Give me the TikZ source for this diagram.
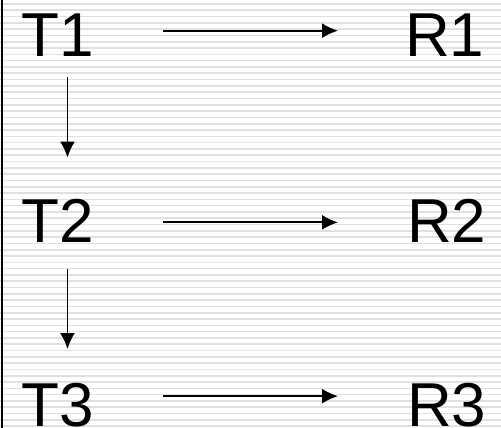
\documentclass[tikz,border=0pt]{standalone}
\usepackage{fontspec}
\setmainfont{Liberation Sans}
\usetikzlibrary{arrows.meta}
\tikzset{
 lbl/.style={inner sep=0pt,anchor=base west,font=\fontsize{62pt}{62pt}\selectfont},
 arr/.style={line width=1.8pt,-{Latex[length=16pt,width=15pt]}}
}
\begin{document}
\begin{tikzpicture}[x=1pt,y=-1pt]
\useasboundingbox(0,0)rectangle(501,428);
\fill[white](0,0)rectangle(501,428);
\foreach \i in {0,...,67}{\draw[line width=1.6pt,black!12](0,4+\i*6.3)--++(501,0);}
\draw[line width=2pt](2,0)--(2,428);
\node[lbl](T1)at(21.5,57){T1};
\node[lbl](T2)at(21.5,242){T2};
\node[lbl](T3)at(21.5,426.5){T3};
\node[lbl](R1)at(405,57){R1};
\node[lbl](R2)at(407,242){R2};
\node[lbl](R3)at(407,426.5){R3};
\draw[arr,shorten <=68.7pt,shorten >=67pt]([yshift=5pt]T1.east)--([yshift=5pt]R1.west);
\draw[arr,shorten <=68.7pt,shorten >=69pt]([yshift=-2pt]T2.east)--([yshift=-2pt]R2.west);
\draw[arr,shorten <=68.7pt,shorten >=69pt]([yshift=9pt]T3.east)--([yshift=9pt]R3.west);
\draw[arr,shorten <=20pt,shorten >=41pt]([xshift=9.6pt]T1.south)--([xshift=9.6pt]T2.north);
\draw[arr,shorten <=27pt,shorten >=34pt]([xshift=9.6pt]T2.south)--([xshift=9.6pt]T3.north);
\end{tikzpicture}
\end{document}
